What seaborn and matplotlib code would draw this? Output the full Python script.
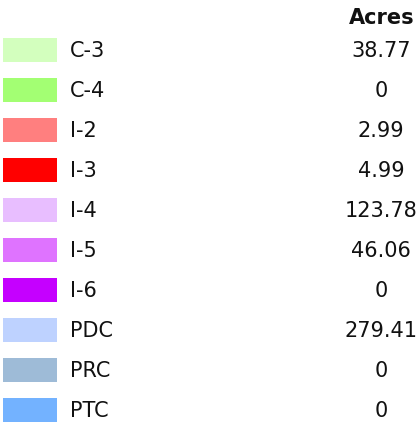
import matplotlib
matplotlib.use("Agg")
import matplotlib.pyplot as plt
import seaborn as sns
import pandas as pd

zones = ["C-3", "C-4", "I-2", "I-3", "I-4", "I-5", "I-6", "PDC", "PRC", "PTC"]
acres = ["38.77", "0", "2.99", "4.99", "123.78", "46.06", "0", "279.41", "0", "0"]
colors = ["#D3FFBE", "#A3FF73", "#FF7F7F", "#FF0000", "#E8BEFF",
          "#DF73FF", "#C500FF", "#BED2FF", "#9EBBD7", "#73B2FF"]

sns.set_theme(style="white")
plt.rcParams['font.family'] = ['DejaVu Sans']

df = pd.DataFrame({"zone": zones, "width": [54] * len(zones)})

fig = plt.figure(figsize=(4.18, 4.26), dpi=100)
ax = fig.add_axes([0, 0, 1, 1])
sns.barplot(data=df, y="zone", x="width", hue="zone", palette=colors,
            legend=False, width=0.58, ax=ax, saturation=1, linewidth=0)

# pixel-ish coordinates: x in px (offset 3), rows 40 px apart
ax.set_xlim(-3, 415)
ax.set_ylim(9.4, -1.25)

for i, (z, a) in enumerate(zip(zones, acres)):
    ax.text(67, i + 0.03, z, ha="left", va="center", fontsize=15, color="#111111")
    ax.text(378, i + 0.03, a, ha="center", va="center", fontsize=15, color="#111111")

ax.text(379, -0.8, "Acres", ha="center", va="center", fontsize=15,
        fontweight="bold", color="#111111")

ax.set_axis_off()
fig.savefig("out.png", dpi=100, facecolor="white")
